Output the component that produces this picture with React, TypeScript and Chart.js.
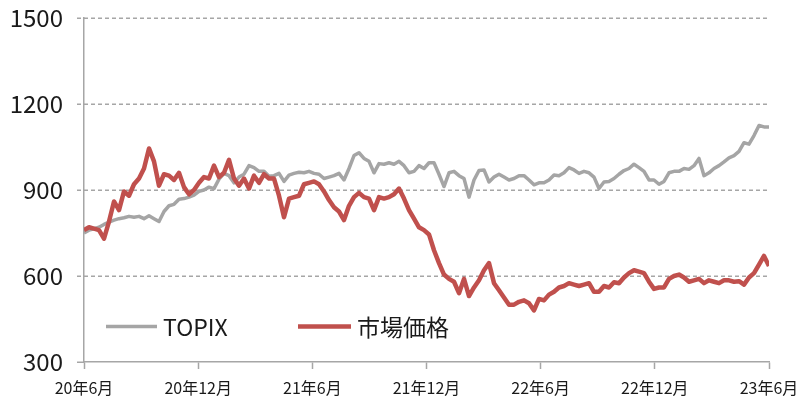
import React, { useEffect, useRef } from "react";
import { Chart, registerables } from "chart.js";

Chart.register(...registerables);

// Tick labels on the time axis (every 6 months)
const xTickLabels = ["20年6月", "20年12月", "21年6月", "21年12月", "22年6月", "22年12月", "23年6月"];
const yTicks = [300, 600, 900, 1200, 1500];
const seriesNames = ["TOPIX", "市場価格"];
const monthsSpan = 36;

// TOPIX (about every 8 days, 20年6月 → 23年6月)
const topixValues = [
  750, 760, 765, 770, 780, 788, 795, 800, 803, 808, 805, 808, 800, 810, 800, 790, 825, 845, 850, 868,
  870, 875, 882, 895, 900, 910, 905, 938, 958, 950, 925, 945, 955, 985, 978, 965, 965, 948, 950, 958,
  930, 952, 958, 962, 960, 965, 958, 955, 940, 945, 950, 958, 935, 975, 1020, 1030, 1010, 1000, 960, 992,
  990, 995, 990, 1000, 985, 960, 965, 985, 975, 995, 995, 955, 912, 960, 965, 950, 940, 875, 935, 968,
  970, 928, 945, 955, 945, 935, 940, 950, 950, 935, 918, 925, 925, 935, 952, 950, 960, 978, 970, 958,
  965, 960, 945, 905, 928, 930, 940, 955, 968, 975, 990, 978, 965, 935, 935, 920, 930, 960, 965, 965,
  975, 972, 985, 1010, 950, 960, 975, 985, 998, 1012, 1020, 1035, 1065, 1060, 1090, 1125, 1120, 1120,
];

// 市場価格
const marketValues = [
  760, 770, 765, 760, 730, 790, 860, 830, 895, 880, 920, 940, 975, 1045, 1000, 915, 955, 950, 935, 960,
  910, 885, 900, 925, 945, 940, 985, 945, 960, 1005, 940, 915, 940, 905, 950, 925, 955, 940, 940, 880,
  805, 870, 875, 880, 920, 925, 930, 920, 895, 865, 840, 825, 795, 845, 875, 890, 875, 870, 830, 875,
  870, 875, 885, 905, 870, 830, 800, 770, 760, 745, 690, 645, 605, 590, 580, 540, 590, 530, 560, 585,
  620, 645, 575, 550, 525, 500, 500, 510, 515, 505, 480, 520, 515, 535, 545, 560, 565, 575, 570, 565,
  570, 575, 545, 545, 565, 560, 578, 575, 595, 610, 620, 615, 610, 580, 555, 560, 560, 590, 600, 605,
  595, 580, 585, 590, 575, 585, 580, 575, 585, 585, 580, 582, 570, 595, 610, 640, 670, 635,
];

const toPoints = (vals: number[]) =>
  vals.map((v, i) => ({ x: (i * monthsSpan) / (vals.length - 1), y: v }));

const GRAY = "#A5A5A5";
const RED = "#C0504D";
const AXIS = "#A6A6A6";
const FONT = "'Noto Sans CJK JP', 'Noto Sans', sans-serif";

const gridPlugin = {
  id: "dashedGrid",
  beforeDatasetsDraw(chart: any) {
    const { ctx, chartArea, scales } = chart;
    const y = scales.y;
    ctx.save();
    ctx.strokeStyle = AXIS;
    ctx.lineWidth = 1.5;
    y.ticks.forEach((t: any) => {
      const py = Math.round(y.getPixelForValue(t.value)) + 0.25;
      ctx.beginPath();
      if (t.value === yTicks[0]) {
        ctx.setLineDash([]);
        ctx.moveTo(chartArea.left - 7, py);
        ctx.lineTo(chartArea.left, py);
      } else {
        ctx.setLineDash([4, 3]);
        ctx.moveTo(chartArea.left - 7, py);
        ctx.lineTo(chartArea.right, py);
      }
      ctx.stroke();
    });
    ctx.restore();
  },
};

const legendPlugin = {
  id: "inlineLegend",
  afterDatasetsDraw(chart: any) {
    const { ctx, chartArea } = chart;
    const y = chartArea.top + (chartArea.bottom - chartArea.top) * 0.897;
    const items = [
      { x0: chartArea.left + 22, x1: chartArea.left + 73, tx: chartArea.left + 79, color: GRAY, w: 3.5 },
      { x0: chartArea.left + 214, x1: chartArea.left + 267, tx: chartArea.left + 273, color: RED, w: 4.5 },
    ];
    ctx.save();
    items.forEach((it, i) => {
      ctx.beginPath();
      ctx.strokeStyle = it.color;
      ctx.lineWidth = it.w;
      ctx.moveTo(it.x0, y);
      ctx.lineTo(it.x1, y);
      ctx.stroke();
      ctx.fillStyle = "#1a1a1a";
      ctx.font = `23px ${FONT}`;
      ctx.textBaseline = "middle";
      ctx.textAlign = "left";
      ctx.fillText(chart.data.datasets[i].label, it.tx, y + 1);
    });
    ctx.restore();
  },
};

export default function App() {
  const ref = useRef<HTMLCanvasElement>(null);

  useEffect(() => {
    document.body.style.margin = "0";
    const canvas = ref.current;
    if (!canvas) return;
    const chart = new Chart(canvas, {
      type: "line",
      data: {
        datasets: [
          {
            label: seriesNames[0],
            data: toPoints(topixValues),
            borderColor: GRAY,
            borderWidth: 3.5,
            pointRadius: 0,
            tension: 0,
            borderJoinStyle: "round",
            order: 1,
          },
          {
            label: seriesNames[1],
            data: toPoints(marketValues),
            borderColor: RED,
            borderWidth: 4.5,
            pointRadius: 0,
            tension: 0,
            borderJoinStyle: "round",
            order: 0,
          },
        ],
      },
      options: {
        responsive: false,
        animation: false,
        layout: { padding: { top: 18, right: 27, bottom: 0, left: 0 } },
        plugins: { legend: { display: false }, tooltip: { enabled: false } },
        scales: {
          x: {
            type: "linear",
            min: 0,
            max: monthsSpan,
            grid: {
              drawOnChartArea: false,
              drawTicks: true,
              tickLength: 7,
              tickColor: AXIS,
              tickWidth: 1.5,
            },
            border: { display: true, color: AXIS, width: 1.5 },
            ticks: {
              stepSize: 6,
              autoSkip: false,
              maxRotation: 0,
              padding: 9,
              color: "#1a1a1a",
              font: { family: FONT, size: 16 },
              callback: (v: any) => xTickLabels[Math.round(Number(v) / 6)] ?? "",
            },
            afterFit: (s: any) => {
              s.height = 39;
              s.paddingLeft = 0;
              s.paddingRight = 0;
            },
          },
          y: {
            min: yTicks[0],
            max: yTicks[yTicks.length - 1],
            afterBuildTicks: (s: any) => {
              s.ticks = yTicks.map((v) => ({ value: v }));
            },
            grid: { display: true, drawOnChartArea: false, drawTicks: false },
            border: { display: true, color: AXIS, width: 1.5 },
            ticks: {
              padding: 21,
              color: "#1a1a1a",
              font: { family: FONT, size: 24 },
              callback: (v: any) => String(v),
            },
            afterFit: (s: any) => {
              s.width = 84;
              s.paddingTop = 0;
              s.paddingBottom = 0;
            },
          },
        },
      },
      plugins: [gridPlugin, legendPlugin],
    });
    return () => chart.destroy();
  }, []);

  return (
    <div style={{ width: 796, height: 401 }}>
      <canvas ref={ref} width={796} height={401} style={{ display: "block" }} />
    </div>
  );
}
